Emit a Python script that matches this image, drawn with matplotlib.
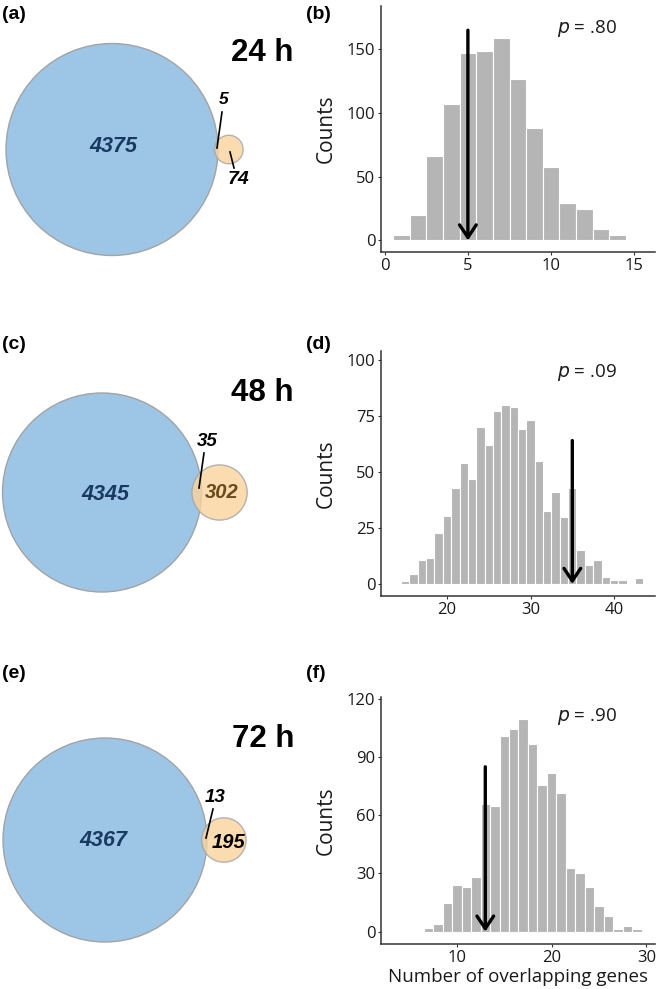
import math

import matplotlib
matplotlib.use('Agg')
import matplotlib.pyplot as plt
from matplotlib.patches import Circle

# Venn counts per time point: only-DE set, overlap, only-other set
timepoints = ['24 h', '48 h', '72 h']
venn_only_big = [4375, 4345, 4367]
venn_overlap = [5, 35, 13]
venn_only_small = [74, 302, 195]

# permutation histograms (bin centres, counts)
hist_b_bins = list(range(1, 16))
hist_b_counts = [4, 20, 66, 107, 147, 149, 159, 127, 88, 58, 29, 25, 9, 4, 1]
hist_d_bins = list(range(14, 44))
hist_d_counts = [0.5, 1.5, 4.5, 10.7, 11.5, 22.6, 30.5, 43, 54, 47, 70, 62, 77,
                 80, 79, 69, 73, 55, 32.6, 41, 30, 43, 15, 8.5, 10.6, 3.3, 1.6,
                 1.6, 0, 2.7]
hist_f_bins = list(range(4, 30))
hist_f_counts = [0.5, 0, 0.5, 2, 4, 15, 24, 23, 28, 66, 65, 100.7, 104.6, 109.6,
                 96.7, 75.5, 81.6, 71.4, 33, 30.3, 23, 13, 8, 1.2, 3, 1.2]
observed = [5, 35, 13]
p_labels = ['.80', '.09', '.90']

W, H = 661, 989
BLUE = '#9dc5e6'
ORANGE = '#fbd49c'
EDGE = '#a3a3a3'
BAR = '#b5b5b5'
SANS = 'Liberation Sans'
OPEN = 'Open Sans'


def lens_area(R, r, d):
    if d >= R + r:
        return 0.0
    if d <= R - r:
        return math.pi * r * r
    a1 = r * r * math.acos((d * d + r * r - R * R) / (2 * d * r))
    a2 = R * R * math.acos((d * d + R * R - r * r) / (2 * d * R))
    a3 = 0.5 * math.sqrt((-d + r + R) * (d + r - R) * (d - r + R) * (d + r + R))
    return a1 + a2 - a3


def centre_distance(R, r, target):
    lo, hi = R - r, R + r
    for _ in range(80):
        mid = (lo + hi) / 2
        if lens_area(R, r, mid) > target:
            lo = mid
        else:
            hi = mid
    return (lo + hi) / 2


fig = plt.figure(figsize=(W / 100, H / 100), dpi=100)

# ---- Venn column, drawn in pixel units ----
vax = fig.add_axes([0, 0, 330 / W, 1])
vax.set_xlim(0, 330)
vax.set_ylim(H, 0)
vax.axis('off')

venn_layout = [
    dict(c=(112, 149.5), R=106, title=(262, 53), big_lbl=(113, 147),
         ov_lbl=(224, 100), ov_line=((222, 112), (217, 148)),
         sm_lbl=(239, 180), sm_line=((230, 152), (234, 168)), sm_col='black'),
    dict(c=(102, 492.5), R=99.5, title=(262, 393), big_lbl=(105, 495),
         ov_lbl=(207, 441), ov_line=((204, 453), (199, 488)),
         sm_lbl=(222, 493), sm_line=None, sm_col='#6b4a1c'),
    dict(c=(105, 840), R=102, title=(263, 739), big_lbl=(103, 841),
         ov_lbl=(215, 797), ov_line=((213, 809), (206, 838)),
         sm_lbl=(229, 842), sm_line=None, sm_col='black'),
]
panel_letters = [('(a)', '(b)', 14.5), ('(c)', '(d)', 344.5), ('(e)', '(f)', 674)]

for i, lay in enumerate(venn_layout):
    big_total = venn_only_big[i] + venn_overlap[i]
    small_total = venn_only_small[i] + venn_overlap[i]
    R = lay['R']
    r = R * math.sqrt(small_total / big_total)
    target = math.pi * R * R * venn_overlap[i] / big_total
    d = centre_distance(R, r, target)
    cx, cy = lay['c']
    vax.add_patch(Circle((cx, cy), R, facecolor=BLUE, edgecolor=EDGE, lw=1.0))
    vax.add_patch(Circle((cx + d, cy), r, facecolor=ORANGE, edgecolor=EDGE,
                         lw=1.0, alpha=0.8))
    vax.text(*lay['big_lbl'], f'{venn_only_big[i]}', fontsize=15.5, family=SANS,
             weight='bold', style='italic', color='#183a5e', ha='center', va='center')
    vax.text(*lay['ov_lbl'], f'{venn_overlap[i]}', fontsize=13.5 if i else 12.5,
             family=SANS, weight='bold', style='italic', ha='center', va='center')
    (x0, y0), (x1, y1) = lay['ov_line']
    vax.plot([x0, x1], [y0, y1], color='black', lw=1.2)
    vax.text(*lay['sm_lbl'], f'{venn_only_small[i]}', fontsize=14.5 if i else 14,
             family=SANS, weight='bold', style='italic', color=lay['sm_col'],
             ha='center', va='center')
    if lay['sm_line']:
        (x0, y0), (x1, y1) = lay['sm_line']
        vax.plot([x0, x1], [y0, y1], color='black', lw=1.2)
    vax.text(*lay['title'], timepoints[i], fontsize=22.5, family=SANS,
             weight='bold', ha='center', va='center')
    left, right, ly = panel_letters[i]
    vax.text(2, ly, left, fontsize=14, family=SANS, weight='bold', va='center')
    fig.text(306 / W, 1 - ly / H, right, fontsize=14, family=SANS, weight='bold',
             va='center')

# ---- histograms ----
hist_layout = [
    dict(top=6, bottom=252, xlim=(-0.22, 16.24), ylim=(-9.1, 184),
         xt=[0, 5, 10, 15], yt=[0, 50, 100, 150], arrow_top=165, py=0.91),
    dict(top=351, bottom=596, xlim=(12.1, 44.9), ylim=(-5.4, 104),
         xt=[20, 30, 40], yt=[0, 25, 50, 75, 100], arrow_top=64, py=0.914),
    dict(top=697, bottom=944, xlim=(2.0, 30.9), ylim=(-6.4, 121),
         xt=[10, 20, 30], yt=[0, 30, 60, 90, 120], arrow_top=85, py=0.923),
]
hist_data = [(hist_b_bins, hist_b_counts), (hist_d_bins, hist_d_counts),
             (hist_f_bins, hist_f_counts)]

for i, (lay, (bins, counts)) in enumerate(zip(hist_layout, hist_data)):
    ax = fig.add_axes([381 / W, 1 - lay['bottom'] / H, 274 / W,
                       (lay['bottom'] - lay['top']) / H])
    ax.bar(bins, counts, width=1.0, color=BAR, edgecolor='white', lw=0.8)
    ax.set_xlim(*lay['xlim'])
    ax.set_ylim(*lay['ylim'])
    ax.set_xticks(lay['xt'])
    ax.set_yticks(lay['yt'])
    for s in ['top', 'right']:
        ax.spines[s].set_visible(False)
    for s in ['left', 'bottom']:
        ax.spines[s].set_color('#333333')
        ax.spines[s].set_linewidth(1.1)
    ax.tick_params(length=2, width=0.8, color='#333333', labelsize=12,
                   labelcolor='#1a1a1a', pad=2)
    for lbl in ax.get_xticklabels() + ax.get_yticklabels():
        lbl.set_family(OPEN)
    ax.set_ylabel('Counts', fontsize=15, family=OPEN, color='#1a1a1a')
    ax.yaxis.set_label_coords(-0.16, 0.5)
    ax.annotate('', xy=(observed[i], 0), xytext=(observed[i], lay['arrow_top']),
                arrowprops=dict(arrowstyle='->, head_length=0.9, head_width=0.6',
                                lw=2.4, color='black', shrinkA=0, shrinkB=0))
    ax.text(0.752, lay['py'], r'$\it{p}$ = ' + p_labels[i], transform=ax.transAxes,
            fontsize=13.5, family=OPEN, ha='center', va='center', color='#1a1a1a')
    if i == 2:
        ax.set_xlabel('Number of overlapping genes', fontsize=13.5, family=OPEN,
                      color='#1a1a1a', labelpad=2)

fig.savefig('out.png', dpi=100, facecolor='white')
